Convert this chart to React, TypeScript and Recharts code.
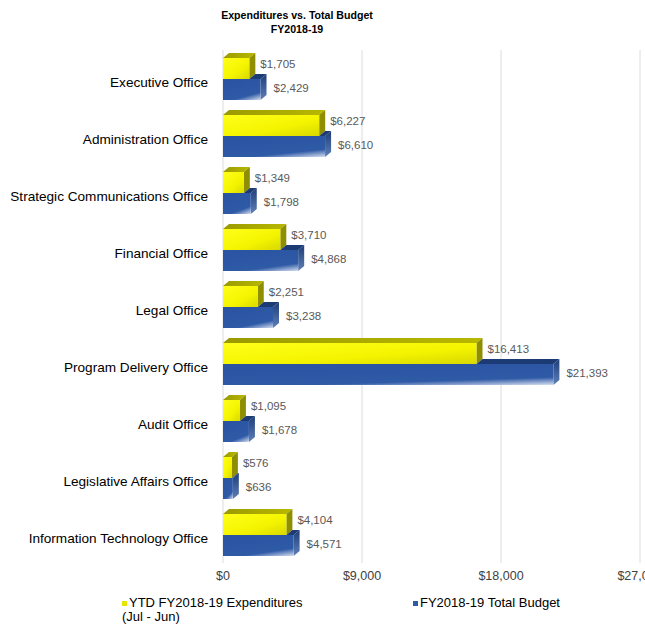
import React from 'react';
import { BarChart, Bar, XAxis, YAxis, CartesianGrid, LabelList } from 'recharts';

const offices = [
  'Executive Office',
  'Administration Office',
  'Strategic Communications Office',
  'Financial Office',
  'Legal Office',
  'Program Delivery Office',
  'Audit Office',
  'Legislative Affairs Office',
  'Information Technology Office',
];
const expenditures = [1705, 6227, 1349, 3710, 2251, 16413, 1095, 576, 4104];
const budget = [2429, 6610, 1798, 4868, 3238, 21393, 1678, 636, 4571];
const xTicks = [0, 9000, 18000, 27000];
const seriesNames = ['YTD FY2018-19 Expenditures\n(Jul - Jun)', 'FY2018-19 Total Budget'];

const data = offices.map((name, i) => ({ name, exp: expenditures[i], budget: budget[i] }));

const DX = 6;
const DY = 5;
const FONT = '"Liberation Sans", Arial, sans-serif';

const money = (v: number) => '$' + v.toLocaleString('en-US');

// fake 3D bars, like the Excel original
const YellowBar = (props: any) => {
  const { x, y, width, height } = props;
  if (!width) return null;
  return (
    <g>
      <polygon
        points={`${x},${y} ${x + DX},${y - DY} ${x + width + DX},${y - DY} ${x + width},${y}`}
        fill="url(#yTop)"
      />
      <polygon
        points={`${x + width},${y} ${x + width + DX},${y - DY} ${x + width + DX},${y + height - DY} ${x + width},${y + height}`}
        fill="#8e8e00"
      />
      <rect x={x} y={y} width={width} height={height} fill="url(#yFront)" />
    </g>
  );
};

const BlueBar = (props: any) => {
  const { x, y, width, height, payload } = props;
  if (!width) return null;
  const yw = (width * payload.exp) / payload.budget;
  const sx = Math.min(yw, width);
  return (
    <g>
      <polygon
        points={`${x + sx},${y} ${x + sx + DX},${y - DY} ${x + width + DX},${y - DY} ${x + width},${y}`}
        fill="#1c3a73"
      />
      <polygon
        points={`${x + width},${y} ${x + width + DX},${y - DY} ${x + width + DX},${y + height - DY} ${x + width},${y + height}`}
        fill="url(#bSide)"
      />
      <rect x={x} y={y} width={width} height={height} fill="url(#bFront)" />
    </g>
  );
};

const valueLabel = (dy: number, dx: number) => (props: any) => {
  const { x, y, width, height, value } = props;
  return (
    <text
      x={x + width + dx}
      y={y + height / 2 + dy}
      dy="0.355em"
      fill="#595959"
      fontSize={11.5}
      fontFamily={FONT}
    >
      {money(value)}
    </text>
  );
};

const CategoryTick = (props: any) => {
  const { x, y, payload } = props;
  return (
    <text x={x} y={y + 4} dy="0.355em" textAnchor="end" fill="#000" fontSize={13.6} fontFamily={FONT}>
      {payload.value}
    </text>
  );
};

const XTick = (props: any) => {
  const { x, y, payload } = props;
  return (
    <text x={x} y={y} dy="0.71em" textAnchor="middle" fill="#404040" fontSize={12.5} fontFamily={FONT}>
      {money(payload.value)}
    </text>
  );
};

export default function App() {
  return (
    <div
      style={{
        position: 'absolute',
        left: 8,
        top: 8,
        width: 637,
        height: 616,
        overflow: 'hidden',
        background: '#fff',
      }}
    >
      <style>{'html { overflow: hidden; }'}</style>
      <div
        style={{
          position: 'absolute',
          top: 0,
          left: 189,
          width: 200,
          textAlign: 'center',
          fontFamily: FONT,
          fontWeight: 'bold',
          fontSize: 10.6,
          lineHeight: '14px',
          color: '#000',
        }}
      >
        Expenditures vs. Total Budget
        <br />
        FY2018-19
      </div>
      <BarChart
        width={660}
        height={616}
        data={data}
        layout="vertical"
        margin={{ top: 42, right: 28, bottom: 31, left: 0 }}
        barSize={21}
        barGap={0}
      >
        <defs>
          <linearGradient id="yFront" x1="0" y1="0" x2="1" y2="1">
            <stop offset="0%" stopColor="#ffff1a" />
            <stop offset="60%" stopColor="#f4f400" />
            <stop offset="100%" stopColor="#d8d800" />
          </linearGradient>
          <linearGradient id="yTop" x1="0" y1="0" x2="1" y2="0">
            <stop offset="0%" stopColor="#9a9a00" />
            <stop offset="100%" stopColor="#b8b800" />
          </linearGradient>
          <linearGradient id="bFront" x1="0.5" y1="0" x2="1" y2="1">
            <stop offset="0%" stopColor="#2b55a2" />
            <stop offset="70%" stopColor="#2f5aa6" />
            <stop offset="100%" stopColor="#d6dff0" />
          </linearGradient>
          <linearGradient id="bSide" x1="0" y1="0" x2="0" y2="1">
            <stop offset="0%" stopColor="#1d3d78" />
            <stop offset="100%" stopColor="#5f7fb8" />
          </linearGradient>
        </defs>
        <CartesianGrid horizontal={false} stroke="#dcdcdc" />
        <XAxis
          type="number"
          domain={[0, 27000]}
          ticks={xTicks}
          axisLine={false}
          tickLine={false}
          height={30}
          tick={<XTick />}
        />
        <YAxis
          type="category"
          dataKey="name"
          width={215}
          axisLine={false}
          tickLine={false}
          tickMargin={9}
          interval={0}
          tick={<CategoryTick />}
        />
        <Bar dataKey="exp" isAnimationActive={false} shape={<YellowBar />}>
          <LabelList dataKey="exp" content={valueLabel(-5, 11)} />
        </Bar>
        <Bar dataKey="budget" isAnimationActive={false} shape={<BlueBar />}>
          <LabelList dataKey="budget" content={valueLabel(-2, 13)} />
        </Bar>
      </BarChart>
      <div style={{ position: 'absolute', top: 588, left: 0, width: 637, fontFamily: FONT, fontSize: 13, color: '#000' }}>
        <div style={{ position: 'absolute', left: 114, top: 0, lineHeight: '14px', whiteSpace: 'pre' }}>
          <span style={{ display: 'inline-block', width: 5, height: 5, background: '#e6e600', marginRight: 2, verticalAlign: 'middle' }} />
          {seriesNames[0]}
        </div>
        <div style={{ position: 'absolute', left: 405, top: 0, lineHeight: '14px' }}>
          <span style={{ display: 'inline-block', width: 5, height: 5, background: '#2e5aa6', marginRight: 2, verticalAlign: 'middle' }} />
          {seriesNames[1]}
        </div>
      </div>
    </div>
  );
}
